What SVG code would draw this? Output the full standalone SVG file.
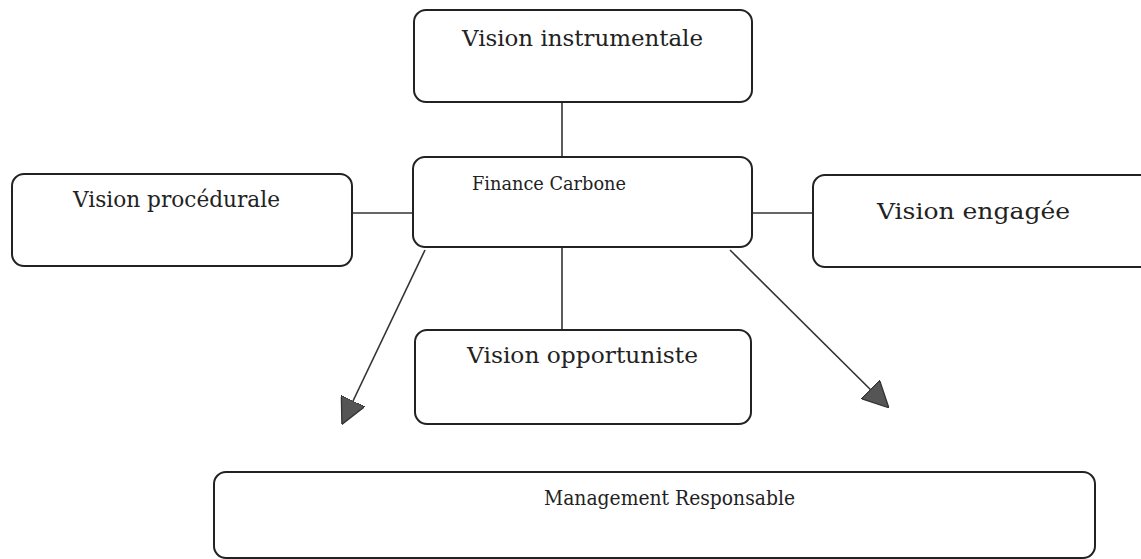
<svg xmlns="http://www.w3.org/2000/svg" width="1141" height="559" viewBox="0 0 1141 559">
<style>
.box{fill:#fff;stroke:#222;stroke-width:2}
.lbl{font-family:"DejaVu Serif","Liberation Serif",serif;font-size:22px;fill:#222}
.con{stroke:#333;stroke-width:1.6;fill:none}
</style>
<defs>
<marker id="ah2" viewBox="0 0 10 10" refX="9" refY="5" markerWidth="26" markerHeight="26" markerUnits="userSpaceOnUse" orient="auto">
<path d="M0,0 L10,5 L0,10 z" fill="#555" stroke="#333" stroke-width="0.5"/>
</marker>
</defs>
<rect width="1141" height="559" fill="#fff"/>
<g id="connectors">
<line class="con" x1="562" y1="102" x2="562" y2="157"/>
<line class="con" x1="352" y1="213" x2="413" y2="213"/>
<line class="con" x1="752" y1="213" x2="813" y2="213"/>
<line class="con" x1="562" y1="247" x2="562" y2="330"/>
<line class="con" x1="425" y1="250" x2="343" y2="422" marker-end="url(#ah2)"/>
<line class="con" x1="730" y1="250" x2="887" y2="406" marker-end="url(#ah2)"/>
</g>
<g id="n-instrumentale">
<rect class="box" x="414" y="10" width="338" height="92" rx="12"/>
<text class="lbl" x="462" y="46" textLength="241" lengthAdjust="spacingAndGlyphs">Vision instrumentale</text>
</g>
<g id="n-finance">
<rect class="box" x="413" y="157" width="339" height="90" rx="12"/>
<text class="lbl" x="472" y="190" style="font-size:18px" textLength="154" lengthAdjust="spacingAndGlyphs">Finance Carbone</text>
</g>
<g id="n-procedurale">
<rect class="box" x="12" y="174" width="340" height="92" rx="12"/>
<text class="lbl" x="73" y="207" textLength="207" lengthAdjust="spacingAndGlyphs">Vision procédurale</text>
</g>
<g id="n-engagee">
<rect class="box" x="813" y="175" width="340" height="92" rx="12"/>
<text class="lbl" x="877" y="219" textLength="193" lengthAdjust="spacingAndGlyphs">Vision engagée</text>
</g>
<g id="n-opportuniste">
<rect class="box" x="415" y="330" width="336" height="94" rx="12"/>
<text class="lbl" x="467" y="363" textLength="231" lengthAdjust="spacingAndGlyphs">Vision opportuniste</text>
</g>
<g id="n-management">
<rect class="box" x="214" y="472" width="881" height="86" rx="12"/>
<text class="lbl" x="544" y="505" style="font-size:20px" textLength="251" lengthAdjust="spacingAndGlyphs">Management Responsable</text>
</g>
</svg>
